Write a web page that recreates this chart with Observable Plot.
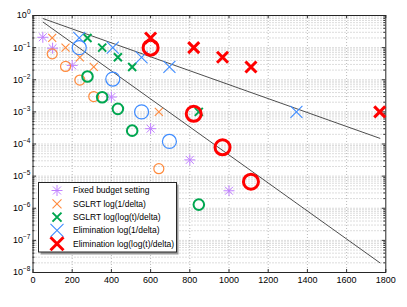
<!DOCTYPE html>
<html>
<head>
<meta charset="utf-8">
<script src="https://cdn.jsdelivr.net/npm/d3@7"></script>
<script src="https://cdn.jsdelivr.net/npm/@observablehq/plot@0.6"></script>
<style>
  html, body { margin: 0; padding: 0; background: #fff; }
  #wrap { position: relative; width: 407px; height: 307px; }
  #legend { position: absolute; left: 38px; top: 182px; }
</style>
</head>
<body>
<div id="wrap"></div>
<script>
// ---- data ----
const xTicks = [0, 200, 400, 600, 800, 1000, 1200, 1400, 1600, 1800];
const yExponents = [-8, -7, -6, -5, -4, -3, -2, -1, 0];

const lineX = [52, 1770];
const upperLine = [0.8, 1.5e-4];
const lowerLine = [0.62, 2e-8];

const fixedX = [50, 100, 200, 400, 600, 800, 1000];
const fixedErr = [0.21, 0.096, 0.028, 0.0029, 3.0e-4, 3.2e-5, 3.5e-6];

const sglrtX = [98, 166, 239, 310, 642];
const sglrtDelta = [0.2, 0.1, 0.05, 0.025, 0.001];
const sglrtErr = [0.064, 0.026, 0.0098, 0.003, 1.7e-5];

const sglrtLLX = [278, 353, 433, 506, 846];
const sglrtLLDelta = [0.2, 0.1, 0.05, 0.025, 0.001];
const sglrtLLErr = [0.0126, 0.00285, 0.00124, 2.6e-4, 1.3e-6];

const elimX = [236, 407, 554, 696, 1344];
const elimDelta = [0.2, 0.1, 0.05, 0.025, 0.001];
const elimErr = [0.10, 0.0105, 0.001, 1.2e-4];

const elimLLX = [600, 820, 967, 1112, 1769];
const elimLLDelta = [0.2, 0.1, 0.05, 0.025, 0.001];
const elimLLErr = [0.10, 8.7e-4, 7.9e-5, 6.7e-6];

const legendLabels = ["Fixed budget setting", "SGLRT log(1/delta)", "SGLRT log(log(t)/delta)", "Elimination log(1/delta)", "Elimination log(log(t)/delta)"];

// ---- styles ----
const cPurple = "#c080ff", cOrange = "#ff8a3c", cGreen = "#00a650", cBlue = "#3f8cff", cRed = "#ff0000";
const W = 407, H = 307, ML = 32.5, MR = 21.7, MT = 15, MB = 35;
const PW = W - ML - MR, PH = H - MT - MB;

const symTimes = {draw(ctx, size) { const r = Math.sqrt(size / Math.PI); ctx.moveTo(-r, -r); ctx.lineTo(r, r); ctx.moveTo(-r, r); ctx.lineTo(r, -r); }};
const symAster = {draw(ctx, size) { const r = Math.sqrt(size / Math.PI); const d = r * 0.72;
  ctx.moveTo(-r, 0); ctx.lineTo(r, 0); ctx.moveTo(0, -r); ctx.lineTo(0, r);
  ctx.moveTo(-d, -d); ctx.lineTo(d, d); ctx.moveTo(-d, d); ctx.lineTo(d, -d); }};

const minorY = [];
for (let k = -8; k < 0; k++) for (let m = 2; m <= 9; m++) minorY.push(m * Math.pow(10, k));
const majorY = yExponents.map(e => Math.pow(10, e));
const gridY = minorY.concat(majorY.slice(1, -1));

const pts = (xs, ys) => ys.map((y, i) => ({x: xs[i], y}));
const tk = {stroke: "#333", strokeWidth: 1};

const chart = Plot.plot({
  width: W, height: H,
  marginLeft: ML, marginRight: MR, marginTop: MT, marginBottom: MB,
  x: {domain: [0, 1800]},
  y: {type: "log", domain: [1e-8, 1]},
  style: {fontFamily: "'Liberation Sans', Arial, sans-serif", fontSize: "8.5px", background: "white", color: "#000"},
  marks: [
    Plot.ruleY(gridY, {stroke: "#a8a8a8", strokeDasharray: "1,2", strokeWidth: 0.8}),
    Plot.ruleX(xTicks.slice(1, -1), {stroke: "#a8a8a8", strokeDasharray: "1,2", strokeWidth: 0.8}),
    // inward ticks on all four sides
    Plot.tickX(xTicks, {x: d => d, insetTop: PH - 3, ...tk}),
    Plot.tickX(xTicks, {x: d => d, insetBottom: PH - 3, ...tk}),
    Plot.tickY(majorY, {y: d => d, insetRight: PW - 3.5, ...tk}),
    Plot.tickY(majorY, {y: d => d, insetLeft: PW - 3.5, ...tk}),
    Plot.tickY(minorY, {y: d => d, insetRight: PW - 2, ...tk}),
    Plot.tickY(minorY, {y: d => d, insetLeft: PW - 2, ...tk}),
    // labels
    Plot.axisX(xTicks, {anchor: "bottom", tickSize: 0, tickPadding: 4, label: null, fontSize: 9, tickFormat: d => String(d)}),
    Plot.axisY(majorY, {anchor: "left", tickSize: 0, tickPadding: 2.5, label: null, fontSize: 9, tickFormat: d => "E" + Math.round(Math.log10(d))}),
    Plot.frame({stroke: "#262626", strokeWidth: 1}),
    // black lines
    Plot.line(pts(lineX, upperLine), {x: "x", y: "y", stroke: "#3a3a3a", strokeWidth: 0.9}),
    Plot.line(pts(lineX, lowerLine), {x: "x", y: "y", stroke: "#3a3a3a", strokeWidth: 0.9}),
    // fixed budget
    Plot.dot(pts(fixedX, fixedErr), {x: "x", y: "y", symbol: symAster, r: 5.5, stroke: cPurple, fill: "none", strokeWidth: 1}),
    // SGLRT log(1/delta)
    Plot.dot(pts(sglrtX, sglrtDelta), {x: "x", y: "y", symbol: symTimes, r: 4, stroke: cOrange, fill: "none", strokeWidth: 1.1}),
    Plot.dot(pts(sglrtX, sglrtErr), {x: "x", y: "y", symbol: "circle", r: 5, stroke: cOrange, fill: "none", strokeWidth: 1.2}),
    // SGLRT log(log(t)/delta)
    Plot.dot(pts(sglrtLLX, sglrtLLDelta), {x: "x", y: "y", symbol: symTimes, r: 4, stroke: cGreen, fill: "none", strokeWidth: 2}),
    Plot.dot(pts(sglrtLLX, sglrtLLErr), {x: "x", y: "y", symbol: "circle", r: 5.3, stroke: cGreen, fill: "none", strokeWidth: 2}),
    // Elimination log(1/delta)
    Plot.dot(pts(elimX, elimDelta), {x: "x", y: "y", symbol: symTimes, r: 6, stroke: cBlue, fill: "none", strokeWidth: 1.1}),
    Plot.dot(pts(elimX, elimErr), {x: "x", y: "y", symbol: "circle", r: 7, stroke: cBlue, fill: "none", strokeWidth: 1.2}),
    // Elimination log(log(t)/delta)
    Plot.dot(pts(elimLLX, elimLLDelta), {x: "x", y: "y", symbol: symTimes, r: 5.5, stroke: cRed, fill: "none", strokeWidth: 3}),
    Plot.dot(pts(elimLLX, elimLLErr), {x: "x", y: "y", symbol: "circle", r: 7.5, stroke: cRed, fill: "none", strokeWidth: 3})
  ]
});

document.getElementById("wrap").appendChild(chart);

// superscript exponents on y tick labels
d3.select(chart).selectAll('g[aria-label="y-axis tick label"] text').each(function() {
  const t = d3.select(this);
  const e = t.text().replace("E", "").replace("-", "\u2212");
  t.text(null);
  t.append("tspan").text("10");
  t.append("tspan").attr("dy", "-4").attr("font-size", "6.5px").text(e);
});

// legend
const legendSym = [
  {sym: symAster, r: 5.5, color: cPurple, w: 1},
  {sym: symTimes, r: 4.5, color: cOrange, w: 1.1},
  {sym: symTimes, r: 4.5, color: cGreen, w: 2},
  {sym: symTimes, r: 6.5, color: cBlue, w: 1.1},
  {sym: symTimes, r: 6.5, color: cRed, w: 3}
];
const lg = d3.select("#wrap").append("svg").attr("id", "legend").attr("width", 142).attr("height", 74);
lg.append("rect").attr("x", 2.5).attr("y", 2.5).attr("width", 138).attr("height", 70).attr("fill", "#999");
lg.append("rect").attr("x", 0.5).attr("y", 0.5).attr("width", 138).attr("height", 69.5).attr("fill", "#fff").attr("stroke", "#262626").attr("stroke-width", 1);
legendLabels.forEach((lab, i) => {
  const cy = 8.5 + i * 13.3;
  const s = legendSym[i];
  lg.append("path").attr("transform", `translate(19,${cy})`)
    .attr("d", d3.symbol(s.sym, Math.PI * s.r * s.r)())
    .attr("fill", "none").attr("stroke", s.color).attr("stroke-width", s.w);
  lg.append("text").attr("x", 35).attr("y", cy).attr("dy", "0.35em")
    .attr("font-family", "'Liberation Sans', Arial, sans-serif").attr("font-size", "8.5px").attr("fill", "#000").text(lab);
});
</script>
</body>
</html>
